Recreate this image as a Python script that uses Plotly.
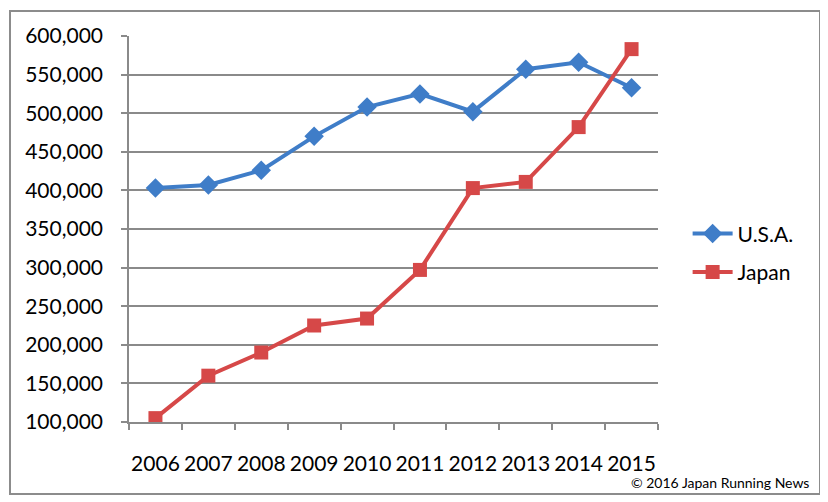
import plotly.graph_objects as go

years = ["2006", "2007", "2008", "2009", "2010", "2011", "2012", "2013", "2014", "2015"]
usa = [403000, 407000, 426000, 470000, 508000, 525000, 502000, 557000, 566000, 533000]
japan = [105000, 160000, 190000, 225000, 234000, 297000, 403000, 411000, 482000, 583000]
ytick_vals = [100000, 150000, 200000, 250000, 300000, 350000, 400000, 450000, 500000, 550000, 600000]
ytick_text = ["100,000", "150,000", "200,000", "250,000", "300,000", "350,000", "400,000", "450,000", "500,000", "550,000", "600,000"]

FONT = "Lato"
fig = go.Figure()
fig.add_trace(go.Scatter(x=years, y=usa, name="U.S.A.", mode="lines+markers", legendgroup="usa",
                         line=dict(color="#3F7DC8", width=4),
                         marker=dict(symbol="diamond", size=15, color="#3F7DC8")))
fig.add_trace(go.Scatter(x=years, y=japan, name="Japan", mode="lines+markers", legendgroup="japan",
                         line=dict(color="#D64848", width=4),
                         marker=dict(symbol="square", size=14, color="#D64848")))

fig.update_layout(
    width=828, height=502,
    margin=dict(l=121, r=178, t=28, b=88, autoexpand=False),
    paper_bgcolor="white", plot_bgcolor="white",
    font=dict(family=FONT, size=21, color="black"),
    showlegend=True,
    legend=dict(x=1.056, y=0.438, xanchor="left", yanchor="middle",
                font=dict(family=FONT, size=21, color="black"),
                tracegroupgap=8, itemwidth=40, bgcolor="rgba(0,0,0,0)"),
    xaxis=dict(type="category", range=[-0.5, 9.5], tickson="boundaries",
               ticks="outside", ticklen=6, tickcolor="#8a8a8a", tickwidth=1.5,
               showline=True, linecolor="#8a8a8a", linewidth=1.5,
               showgrid=False, ticklabelstandoff=22, tickangle=0, automargin=False,
               tickfont=dict(family=FONT, size=21)),
    yaxis=dict(range=[100000, 600000], tickvals=ytick_vals, ticktext=ytick_text,
               ticks="outside", ticklen=6, tickcolor="#8a8a8a", tickwidth=1.5,
               showline=True, linecolor="#8a8a8a", linewidth=1.5,
               showgrid=True, gridcolor="#8a8a8a", gridwidth=1.5,
               zeroline=False, ticklabelstandoff=14, automargin=False,
               tickfont=dict(family=FONT, size=21)),
    shapes=[dict(type="rect", xref="paper", yref="paper",
                 x0=(10 - 129) / 529, x1=(820 - 129) / 529,
                 y0=(422 - 494) / 386, y1=(422 - 11) / 386,
                 line=dict(color="#8c8c8c", width=2), fillcolor="rgba(0,0,0,0)",
                 layer="below")],
    annotations=[dict(text="© 2016 Japan Running News", xref="paper", yref="paper",
                      x=(811 - 129) / 529, y=(422 - 482) / 386,
                      xanchor="right", yanchor="middle", showarrow=False,
                      font=dict(family=FONT, size=14, color="black"))],
)

fig.write_html("out.html")
